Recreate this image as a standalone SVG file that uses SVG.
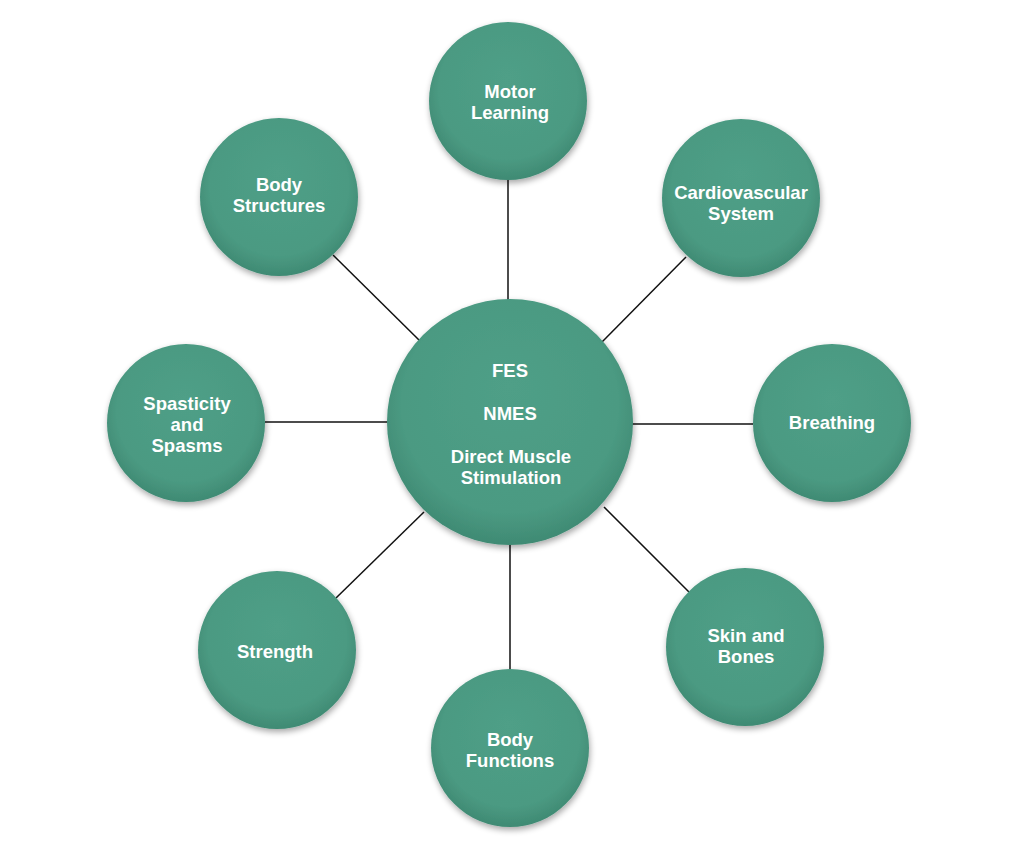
<svg xmlns="http://www.w3.org/2000/svg" width="1030" height="854" viewBox="0 0 1030 854">
<defs>
<radialGradient id="g" cx="50%" cy="45%" r="55%" fx="50%" fy="35%">
<stop offset="0" stop-color="#4f9f87"/>
<stop offset="0.8" stop-color="#4b9a82"/>
<stop offset="1" stop-color="#3f8a73"/>
</radialGradient>
<filter id="sh" x="-20%" y="-20%" width="140%" height="140%">
<feGaussianBlur in="SourceAlpha" stdDeviation="3"/>
<feOffset dx="1" dy="3" result="b"/>
<feComponentTransfer><feFuncA type="linear" slope="0.35"/></feComponentTransfer>
<feMerge><feMergeNode/><feMergeNode in="SourceGraphic"/></feMerge>
</filter>
<style>
.n{fill:url(#g);filter:url(#sh)}
.t{font-family:"Liberation Sans",Arial,sans-serif;font-weight:bold;font-size:18.5px;fill:#fff;text-anchor:middle}
.c{stroke:#111;stroke-width:1.5;fill:none}
</style>
</defs>
<rect width="1030" height="854" fill="#fff"/>
<g id="connectors">
<line class="c" x1="508" y1="180" x2="508" y2="302"/>
<line class="c" x1="333" y1="255" x2="420" y2="341"/>
<line class="c" x1="686" y1="257" x2="602" y2="342"/>
<line class="c" x1="265" y1="422" x2="388" y2="422"/>
<line class="c" x1="632" y1="424" x2="753" y2="424"/>
<line class="c" x1="336" y1="598" x2="424" y2="512"/>
<line class="c" x1="510" y1="544" x2="510" y2="669"/>
<line class="c" x1="604" y1="507" x2="689" y2="592"/>
</g>
<g id="center"><circle class="n" cx="510" cy="422" r="123"/>
<text class="t" x="510" y="377">FES</text>
<text class="t" x="510" y="420">NMES</text>
<text class="t" x="511" y="463">Direct Muscle</text>
<text class="t" x="511" y="484">Stimulation</text></g>
<g id="motor"><circle class="n" cx="508" cy="101" r="79"/>
<text class="t" x="510" y="98">Motor</text><text class="t" x="510" y="119">Learning</text></g>
<g id="body-structures"><circle class="n" cx="279" cy="197" r="79"/>
<text class="t" x="279" y="191">Body</text><text class="t" x="279" y="212">Structures</text></g>
<g id="cardio"><circle class="n" cx="741" cy="198" r="79"/>
<text class="t" x="741" y="199">Cardiovascular</text><text class="t" x="741" y="220">System</text></g>
<g id="spasticity"><circle class="n" cx="186" cy="423" r="79"/>
<text class="t" x="187" y="410">Spasticity</text><text class="t" x="187" y="431">and</text><text class="t" x="187" y="452">Spasms</text></g>
<g id="breathing"><circle class="n" cx="832" cy="423" r="79"/>
<text class="t" x="832" y="429">Breathing</text></g>
<g id="strength"><circle class="n" cx="277" cy="650" r="79"/>
<text class="t" x="275" y="658">Strength</text></g>
<g id="body-functions"><circle class="n" cx="510" cy="748" r="79"/>
<text class="t" x="510" y="746">Body</text><text class="t" x="510" y="767">Functions</text></g>
<g id="skin"><circle class="n" cx="745" cy="647" r="79"/>
<text class="t" x="746" y="642">Skin and</text><text class="t" x="746" y="663">Bones</text></g>
</svg>
